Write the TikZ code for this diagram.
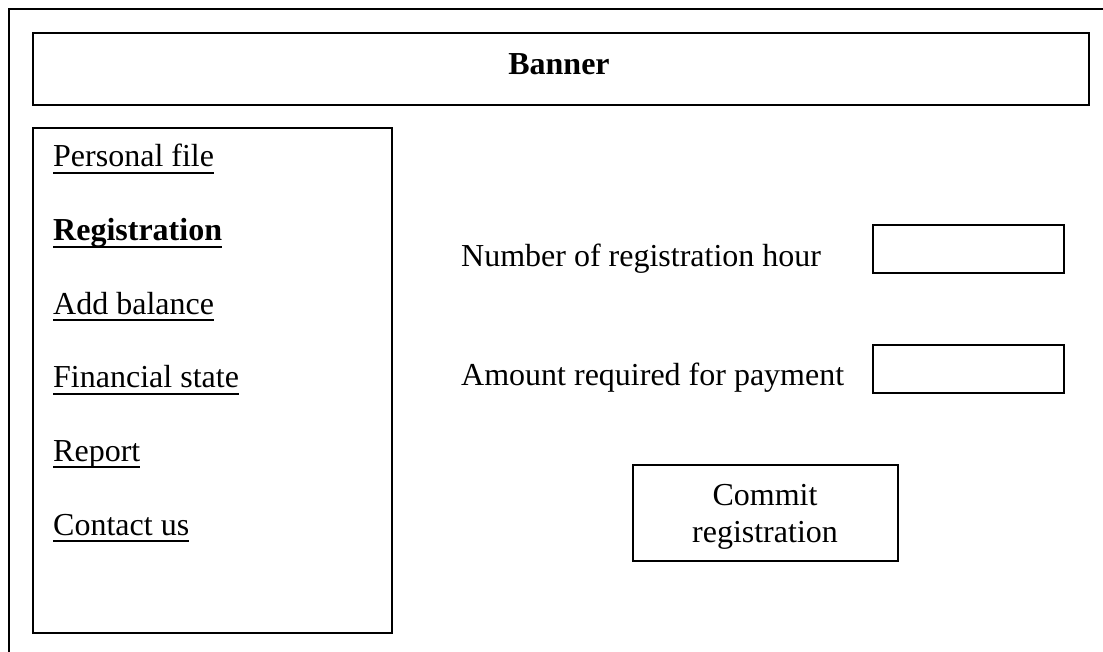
\documentclass[tikz,border=0pt]{standalone}
\usepackage{fontspec}
\setmainfont{Liberation Serif}
\begin{document}
\begin{tikzpicture}[x=1pt,y=-1pt,
  frame/.style={draw=black,line width=2pt},
  box/.style={draw=black,line width=2pt,fill=white,rectangle},
  txt/.style={inner sep=0pt,anchor=base west,font=\fontsize{32}{37}\selectfont},
  ctxt/.style={inner sep=0pt,anchor=base,font=\fontsize{32}{37}\selectfont},
  uline/.style={line width=2pt}]
\useasboundingbox[fill=white] (0,0) rectangle (1103,652);

% outer page frame, open at the right and bottom
\coordinate (fbl) at (9,652);
\coordinate (ftl) at (9,9.5);
\coordinate (ftr) at (1103,9.5);
\draw[frame] (fbl) -- (ftl) -- (ftr);

% banner strip
\draw[box] (33,33) rectangle (1089,105);
\node[ctxt,font=\fontsize{32}{37}\selectfont\bfseries] (banner) at (559,75) {Banner};

% side menu
\draw[box] (33,128) rectangle (392,633);
\node[txt] (m1) at (53,167) {Personal file};
\node[txt,font=\fontsize{32}{37}\selectfont\bfseries] (m2) at (53,240.6) {Registration};
\node[txt] (m3) at (53,314.2) {Add balance};
\node[txt] (m4) at (53,387.8) {Financial state};
\node[txt] (m5) at (53,461.4) {Report};
\node[txt] (m6) at (53,535) {Contact us};
\foreach \m in {m1,m2,m3,m4,m5,m6}
  \draw[uline] ([yshift=-6pt]\m.base west) -- ([yshift=-6pt]\m.base east);

% form fields
\node[txt] (l1) at (461,267) {Number of registration hour};
\node[txt] (l2) at (461,385) {Amount required for payment};
\draw[box] (873,225) rectangle (1064,273);
\draw[box] (873,345) rectangle (1064,393);

% submit button
\draw[box] (633,465) rectangle (898,561);
\node[ctxt] (c1) at (765,505) {Commit};
\node[ctxt] (c2) at (765,542) {registration};
\end{tikzpicture}
\end{document}
